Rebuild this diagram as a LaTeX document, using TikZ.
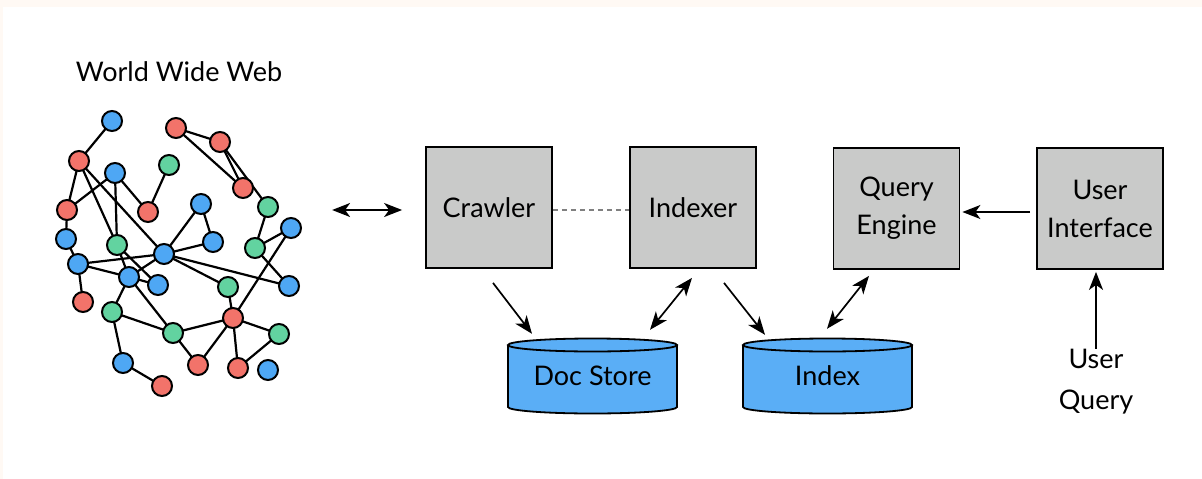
\documentclass[tikz,border=0pt]{standalone}
\usepackage{fontspec}
\setmainfont{Lato}
\usetikzlibrary{arrows.meta,calc}
\pgfdeclarelayer{bglayer}
\pgfdeclarelayer{edgelayer}
\pgfsetlayers{bglayer,edgelayer,main}
\definecolor{boxgray}{HTML}{C9CAC9}
\definecolor{cylblue}{HTML}{5AAEF6}
\definecolor{nred}{HTML}{F2736A}
\definecolor{nblue}{HTML}{4EA7F4}
\definecolor{ngreen}{HTML}{62D3A0}
\definecolor{bgtint}{HTML}{FFF9F4}
\tikzset{
  procbox/.style={draw=black, line width=1.8pt, fill=boxgray, minimum width=126pt, minimum height=121pt, inner sep=0pt, align=center, font=\fontsize{27}{38}\selectfont},
  cylnode/.style={minimum width=169pt, minimum height=68pt, inner sep=0pt, font=\fontsize{27}{30}\selectfont},
  wn/.style={circle, draw=black, line width=2pt, minimum size=20pt, inner sep=0pt},
  wr/.style={wn, fill=nred},
  wb/.style={wn, fill=nblue},
  wg/.style={wn, fill=ngreen},
  wedge/.style={draw=black, line width=2.2pt},
  arr/.style={draw=black, line width=1.7pt, -{Stealth[length=18pt,width=14pt,inset=5pt]}},
  darr/.style={draw=black, line width=1.7pt, {Stealth[length=18pt,width=14pt,inset=5pt]}-{Stealth[length=18pt,width=14pt,inset=5pt]}},
}
\begin{document}
\begin{tikzpicture}[x=1pt,y=-1pt]
\useasboundingbox (0,0) rectangle (1202,479);
\begin{pgfonlayer}{bglayer}
\fill[bgtint] (0,0) rectangle (1202,479);
\fill[white] (3,7) rectangle (1202,479);
\end{pgfonlayer}

% title
\node[font=\fontsize{27}{30}\selectfont] (www) at (179,72) {World Wide Web};

% web graph nodes
\node[wb] (n1) at (112,121) {};
\node[wr] (n2) at (176,128) {};
\node[wr] (n3) at (220,142) {};
\node[wr] (n4) at (79,161) {};
\node[wb] (n5) at (115,173) {};
\node[wg] (n6) at (169,165) {};
\node[wr] (n7) at (243,188) {};
\node[wr] (n8) at (148,212) {};
\node[wr] (n9) at (67,210) {};
\node[wb] (n10) at (201,204) {};
\node[wg] (n11) at (268,207) {};
\node[wb] (n12) at (291,228) {};
\node[wb] (n13) at (66,239) {};
\node[wg] (n14) at (117,245) {};
\node[wb] (n15) at (213,242) {};
\node[wg] (n16) at (255,248) {};
\node[wb] (n17) at (164,254) {};
\node[wb] (n18) at (78,264) {};
\node[wb] (n19) at (129,277) {};
\node[wb] (n20) at (158,285) {};
\node[wg] (n21) at (228,287) {};
\node[wb] (n22) at (289,286) {};
\node[wr] (n23) at (83,302) {};
\node[wg] (n24) at (112,312) {};
\node[wr] (n25) at (233,318) {};
\node[wg] (n26) at (173,333) {};
\node[wg] (n27) at (279,334) {};
\node[wb] (n28) at (123,363) {};
\node[wr] (n29) at (198,365) {};
\node[wr] (n30) at (238,368) {};
\node[wb] (n31) at (268,370) {};
\node[wr] (n32) at (162,386) {};

\begin{pgfonlayer}{edgelayer}
\foreach \a/\b in {n1/n4,n2/n3,n2/n7,n3/n7,n3/n11,n4/n9,n4/n14,n4/n17,n5/n9,n5/n8,n5/n14,n6/n8,
  n9/n13,n10/n17,n10/n15,n15/n17,n11/n16,n16/n12,n16/n22,n12/n25,n13/n18,n18/n17,n18/n19,n18/n23,
  n14/n19,n14/n20,n19/n20,n17/n19,n17/n21,n17/n22,n21/n25,n19/n24,n19/n26,n24/n26,n26/n25,n25/n27,
  n25/n29,n25/n30,n27/n30,n26/n29,n24/n28,n28/n32}
  \draw[wedge] (\a.center) -- (\b.center);
\end{pgfonlayer}

% process boxes
\node[procbox] (crawler) at (489,207.5) {Crawler};
\node[procbox] (indexer) at (693,207.5) {Indexer};
\node[procbox] (qengine) at (896.5,208.5) {Query\\Engine};
\node[procbox] (ui) at (1100,208.5) {User\\Interface};

% cylinders
\foreach \nm/\cx/\lbl in {docstore/592.5/Doc Store, index/827.5/Index}{
  \fill[cylblue] (\cx-84.5,345) -- (\cx-84.5,407) arc[start angle=180,end angle=360,x radius=84.5pt,y radius=6.5pt] -- (\cx+84.5,345) -- cycle;
  \fill[cylblue] (\cx,345) ellipse[x radius=84.5pt,y radius=6.5pt];
  \draw[line width=1.8pt] (\cx-84.5,345) -- (\cx-84.5,407) arc[start angle=180,end angle=360,x radius=84.5pt,y radius=6.5pt] -- (\cx+84.5,345);
  \draw[line width=1.8pt] (\cx,345) ellipse[x radius=84.5pt,y radius=6.5pt];
  \node[cylnode] (\nm) at (\cx,376) {\lbl};
}

% user query
\node[align=center, font=\fontsize{27}{41}\selectfont] (uq) at (1096,382) {User\\Query};

% connectors
\coordinate (webr) at ($(crawler.west)+(-93,2.5)$);
\draw[darr] (webr) -- ([shift={(-23,2.5)}]crawler.west);
\draw[draw=gray, line width=1.3pt, dash pattern=on 5pt off 4pt] ([yshift=-2.5pt]crawler.east) -- ([yshift=-2.5pt]indexer.west);
\draw[arr] ([shift={(4,14)}]crawler.south) -- ([shift={(-60.5,-8)}]docstore.north);
\draw[darr] ([shift={(-1,9)}]indexer.south) -- ([shift={(57.5,-12)}]docstore.north);
\draw[arr] ([shift={(31,14)}]indexer.south) -- ([shift={(-62.5,-7)}]index.north);
\draw[darr] ([shift={(-27.5,6)}]qengine.south) -- ([shift={(-0.5,-13)}]index.north);
\draw[arr] ([shift={(-6,3.5)}]ui.west) -- ([shift={(2,3.5)}]qengine.east);
\draw[arr] ([yshift=-3pt]uq.north) -- ([yshift=-2pt]uq.north |- ui.south);
\end{tikzpicture}
\end{document}
